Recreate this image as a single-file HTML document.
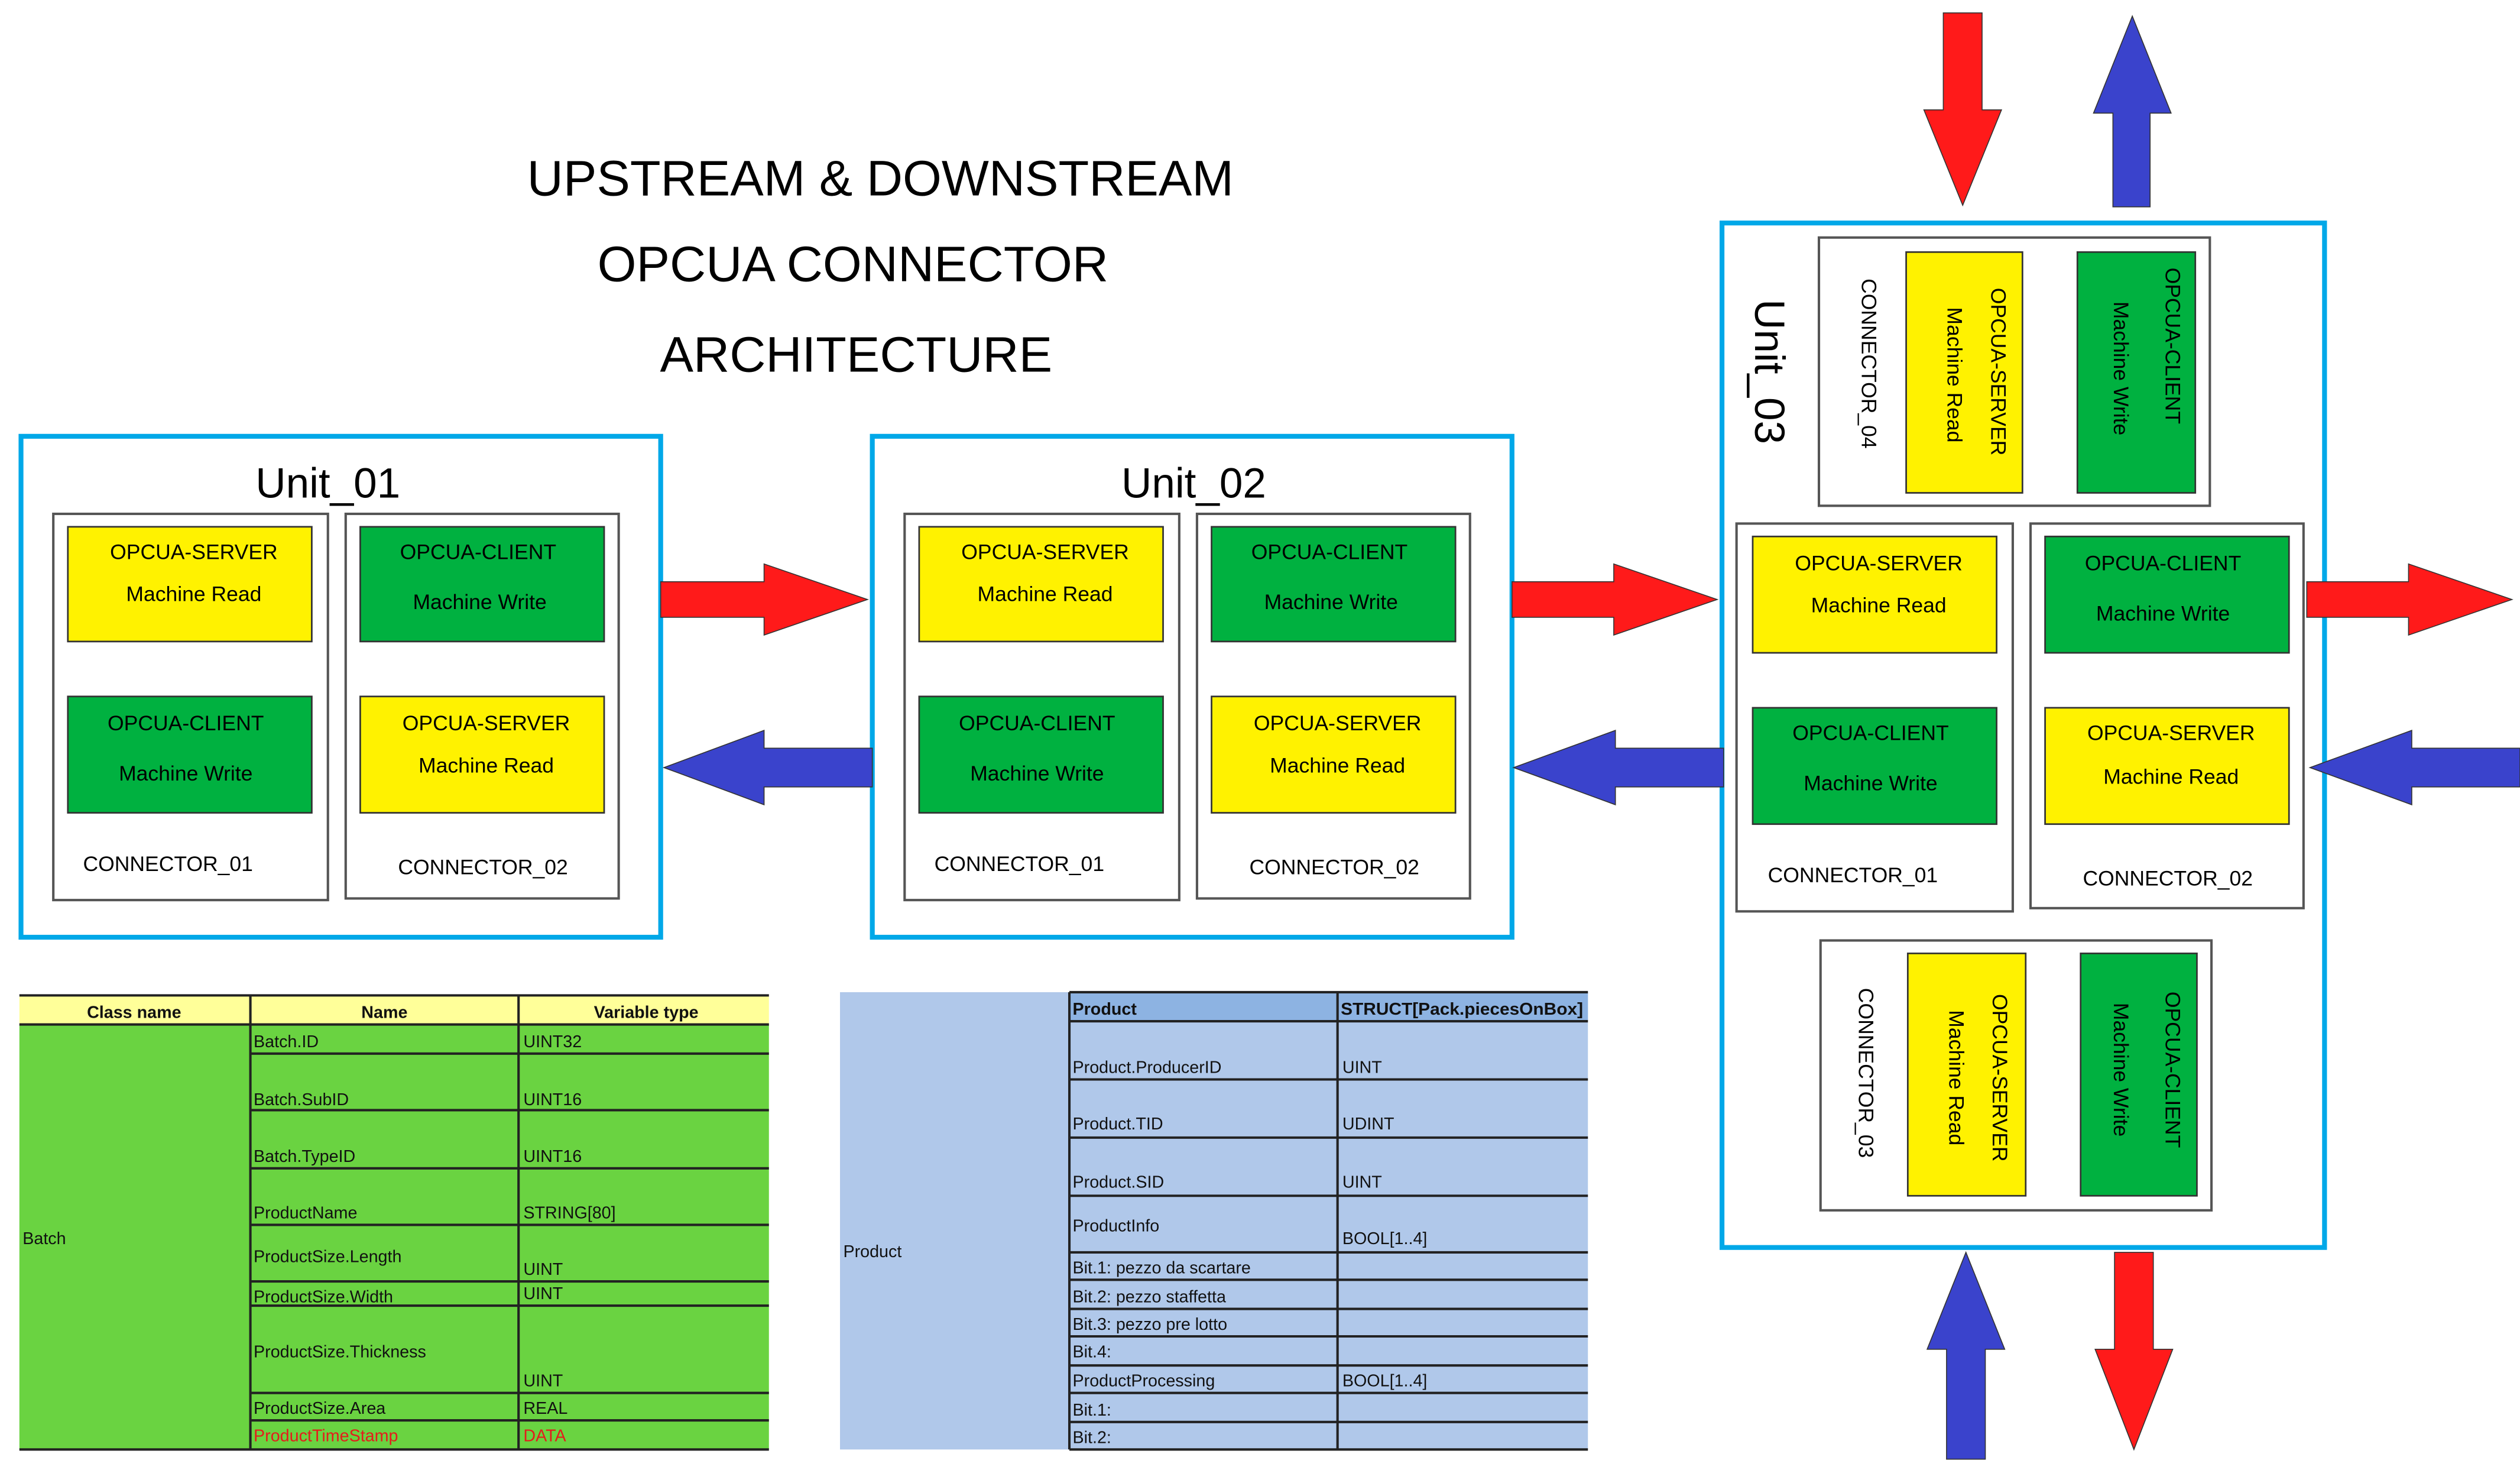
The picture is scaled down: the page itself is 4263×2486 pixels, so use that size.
<!DOCTYPE html>
<html><head><meta charset="utf-8"><style>html,body{margin:0;padding:0;background:#fff}svg{display:block}</style></head>
<body>
<svg xmlns="http://www.w3.org/2000/svg" width="4263" height="2486" viewBox="0 0 1560 909.7" preserveAspectRatio="none" font-family="Liberation Sans, Arial, sans-serif">
<rect width="1560" height="910" fill="#fff"/>
<g font-size="31" text-anchor="middle" fill="#000">
<text x="545" y="121">UPSTREAM &amp; DOWNSTREAM</text>
<text x="528" y="174">OPCUA CONNECTOR</text>
<text x="530" y="230">ARCHITECTURE</text>
</g>
<g>
<rect x="13" y="270" width="396" height="310" fill="#fff" stroke="#00a8e8" stroke-width="3"/>
<text x="203" y="308" font-size="26" text-anchor="middle">Unit_01</text>
<rect x="33" y="318" width="170" height="239" fill="#fff" stroke="#555" stroke-width="1.5"/>
<rect x="214" y="318" width="169" height="238" fill="#fff" stroke="#555" stroke-width="1.5"/>
<rect x="42" y="326" width="151" height="71" fill="#fff200" stroke="#333"/>
<rect x="42" y="431" width="151" height="72" fill="#00b140" stroke="#333"/>
<rect x="223" y="326" width="151" height="71" fill="#00b140" stroke="#333"/>
<rect x="223" y="431" width="151" height="72" fill="#fff200" stroke="#333"/>
<g font-size="13" text-anchor="middle">
<text x="120" y="346">OPCUA-SERVER</text><text x="120" y="372">Machine Read</text>
<text x="115" y="452">OPCUA-CLIENT</text><text x="115" y="483">Machine Write</text>
<text x="296" y="346">OPCUA-CLIENT</text><text x="297" y="377">Machine Write</text>
<text x="301" y="452">OPCUA-SERVER</text><text x="301" y="478">Machine Read</text>
<text x="104" y="539">CONNECTOR_01</text><text x="299" y="541">CONNECTOR_02</text>
</g>
</g>
<g transform="translate(527,0)">
<rect x="13" y="270" width="396" height="310" fill="#fff" stroke="#00a8e8" stroke-width="3"/>
<text x="212" y="308" font-size="26" text-anchor="middle">Unit_02</text>
<rect x="33" y="318" width="170" height="239" fill="#fff" stroke="#555" stroke-width="1.5"/>
<rect x="214" y="318" width="169" height="238" fill="#fff" stroke="#555" stroke-width="1.5"/>
<rect x="42" y="326" width="151" height="71" fill="#fff200" stroke="#333"/>
<rect x="42" y="431" width="151" height="72" fill="#00b140" stroke="#333"/>
<rect x="223" y="326" width="151" height="71" fill="#00b140" stroke="#333"/>
<rect x="223" y="431" width="151" height="72" fill="#fff200" stroke="#333"/>
<g font-size="13" text-anchor="middle">
<text x="120" y="346">OPCUA-SERVER</text><text x="120" y="372">Machine Read</text>
<text x="115" y="452">OPCUA-CLIENT</text><text x="115" y="483">Machine Write</text>
<text x="296" y="346">OPCUA-CLIENT</text><text x="297" y="377">Machine Write</text>
<text x="301" y="452">OPCUA-SERVER</text><text x="301" y="478">Machine Read</text>
<text x="104" y="539">CONNECTOR_01</text><text x="299" y="541">CONNECTOR_02</text>
</g>
</g>
<rect x="1066" y="138" width="373" height="634" fill="#fff" stroke="#00a8e8" stroke-width="3"/>
<rect x="1126" y="147" width="242" height="166" fill="#fff" stroke="#555" stroke-width="1.5"/>
<rect x="1180" y="156" width="72" height="149" fill="#fff200" stroke="#333"/>
<rect x="1286" y="156" width="73" height="149" fill="#00b140" stroke="#333"/>
<rect x="1075" y="324" width="171" height="240" fill="#fff" stroke="#555" stroke-width="1.5"/>
<rect x="1257" y="324" width="169" height="238" fill="#fff" stroke="#555" stroke-width="1.5"/>
<rect x="1085" y="332" width="151" height="72" fill="#fff200" stroke="#333"/>
<rect x="1085" y="438" width="151" height="72" fill="#00b140" stroke="#333"/>
<rect x="1266" y="332" width="151" height="72" fill="#00b140" stroke="#333"/>
<rect x="1266" y="438" width="151" height="72" fill="#fff200" stroke="#333"/>
<rect x="1127" y="582" width="242" height="167" fill="#fff" stroke="#555" stroke-width="1.5"/>
<rect x="1181" y="590" width="73" height="150" fill="#fff200" stroke="#333"/>
<rect x="1288" y="590" width="72" height="150" fill="#00b140" stroke="#333"/>
<g font-size="13" text-anchor="middle">
<text x="1163" y="353">OPCUA-SERVER</text><text x="1163" y="379">Machine Read</text>
<text x="1158" y="458">OPCUA-CLIENT</text><text x="1158" y="489">Machine Write</text>
<text x="1339" y="353">OPCUA-CLIENT</text><text x="1339" y="384">Machine Write</text>
<text x="1344" y="458">OPCUA-SERVER</text><text x="1344" y="485">Machine Read</text>
<text x="1147" y="546">CONNECTOR_01</text><text x="1342" y="548">CONNECTOR_02</text>
</g>
<g font-size="13" text-anchor="middle" dominant-baseline="central">
<text transform="translate(1237,230) rotate(90)">OPCUA-SERVER</text>
<text transform="translate(1210,232) rotate(90)">Machine Read</text>
<text transform="translate(1345,214) rotate(90)">OPCUA-CLIENT</text>
<text transform="translate(1313,228) rotate(90)">Machine Write</text>
<text transform="translate(1157,225) rotate(90)">CONNECTOR_04</text>
<text transform="translate(1238,667) rotate(90)">OPCUA-SERVER</text>
<text transform="translate(1211,667) rotate(90)">Machine Read</text>
<text transform="translate(1345,662) rotate(90)">OPCUA-CLIENT</text>
<text transform="translate(1313,662) rotate(90)">Machine Write</text>
<text transform="translate(1155,664) rotate(90)">CONNECTOR_03</text>
<text transform="translate(1095,230) rotate(90)" font-size="26">Unit_03</text>
</g>
<g stroke="#333" stroke-width="0.6">
<polygon fill="#ff1a1a" points="409,360 473,360 473,349 537,371 473,393 473,382 409,382"/>
<polygon fill="#3a43cc" points="540,463 473,463 473,452 411,475 473,498 473,487 540,487"/>
<polygon fill="#ff1a1a" points="936,360 999,360 999,349 1063,371 999,393 999,382 936,382"/>
<polygon fill="#3a43cc" points="1067,463 1000,463 1000,452 937,475 1000,498 1000,487 1067,487"/>
<polygon fill="#ff1a1a" points="1428,360 1491,360 1491,349 1555,371 1491,393 1491,382 1428,382"/>
<polygon fill="#3a43cc" points="1560,463 1493,463 1493,452 1430,475 1493,498 1493,487 1560,487"/>
<polygon fill="#ff1a1a" points="1203,8 1227,8 1227,68 1239,68 1215,127 1191,68 1203,68"/>
<polygon fill="#3a43cc" points="1320,10 1344,70 1331,70 1331,128 1308,128 1308,70 1296,70"/>
<polygon fill="#3a43cc" points="1217,775 1241,835 1229,835 1229,903 1205,903 1205,835 1193,835"/>
<polygon fill="#ff1a1a" points="1309,775 1333,775 1333,835 1345,835 1321,897 1297,835 1309,835"/>
</g>
<rect x="12" y="616" width="464" height="18" fill="#ffff99"/>
<rect x="12" y="634" width="464" height="263" fill="#6ad341"/>
<g stroke="#222" stroke-width="1.5">
<line x1="12" y1="616" x2="476" y2="616"/><line x1="12" y1="634" x2="476" y2="634"/>
<line x1="155" y1="652" x2="476" y2="652"/><line x1="155" y1="687" x2="476" y2="687"/>
<line x1="155" y1="723" x2="476" y2="723"/><line x1="155" y1="758" x2="476" y2="758"/>
<line x1="155" y1="793" x2="476" y2="793"/><line x1="155" y1="808" x2="476" y2="808"/>
<line x1="155" y1="862" x2="476" y2="862"/><line x1="155" y1="879" x2="476" y2="879"/>
<line x1="12" y1="897" x2="476" y2="897"/>
<line x1="155" y1="616" x2="155" y2="897"/><line x1="321" y1="616" x2="321" y2="897"/>
</g>
<g font-size="10.5" fill="#111">
<g font-weight="bold" text-anchor="middle"><text x="83" y="630">Class name</text><text x="238" y="630">Name</text><text x="400" y="630">Variable type</text></g>
<text x="14" y="770">Batch</text>
<text x="157" y="648">Batch.ID</text><text x="324" y="648">UINT32</text>
<text x="157" y="684">Batch.SubID</text><text x="324" y="684">UINT16</text>
<text x="157" y="719">Batch.TypeID</text><text x="324" y="719">UINT16</text>
<text x="157" y="754">ProductName</text><text x="324" y="754">STRING[80]</text>
<text x="157" y="781">ProductSize.Length</text><text x="324" y="789">UINT</text>
<text x="157" y="806">ProductSize.Width</text><text x="324" y="804">UINT</text>
<text x="157" y="840">ProductSize.Thickness</text><text x="324" y="858">UINT</text>
<text x="157" y="875">ProductSize.Area</text><text x="324" y="875">REAL</text>
<text x="157" y="892" fill="#e41c1c">ProductTimeStamp</text><text x="324" y="892" fill="#e41c1c">DATA</text>
</g>
<rect x="520" y="614" width="463" height="283" fill="#b0c8ea"/>
<rect x="662" y="614" width="321" height="18" fill="#8db3e2"/>
<g stroke="#222" stroke-width="1.5">
<line x1="662" y1="614" x2="983" y2="614"/><line x1="662" y1="632" x2="983" y2="632"/>
<line x1="662" y1="668" x2="983" y2="668"/><line x1="662" y1="704" x2="983" y2="704"/>
<line x1="662" y1="740" x2="983" y2="740"/><line x1="662" y1="775" x2="983" y2="775"/>
<line x1="662" y1="792" x2="983" y2="792"/><line x1="662" y1="810" x2="983" y2="810"/>
<line x1="662" y1="827" x2="983" y2="827"/><line x1="662" y1="845" x2="983" y2="845"/>
<line x1="662" y1="862" x2="983" y2="862"/><line x1="662" y1="880" x2="983" y2="880"/>
<line x1="662" y1="897" x2="983" y2="897"/>
<line x1="662" y1="614" x2="662" y2="897"/><line x1="828" y1="614" x2="828" y2="897"/>
</g>
<g font-size="10.5" fill="#111">
<text x="522" y="778">Product</text>
<g font-weight="bold"><text x="664" y="628">Product</text><text x="830" y="628" textLength="150" lengthAdjust="spacingAndGlyphs">STRUCT[Pack.piecesOnBox]</text></g>
<text x="664" y="664">Product.ProducerID</text><text x="831" y="664">UINT</text>
<text x="664" y="699">Product.TID</text><text x="831" y="699">UDINT</text>
<text x="664" y="735">Product.SID</text><text x="831" y="735">UINT</text>
<text x="664" y="762">ProductInfo</text><text x="831" y="770">BOOL[1..4]</text>
<text x="664" y="788">Bit.1: pezzo da scartare</text>
<text x="664" y="806">Bit.2: pezzo staffetta</text>
<text x="664" y="823">Bit.3: pezzo pre lotto</text>
<text x="664" y="840">Bit.4:</text>
<text x="664" y="858">ProductProcessing</text><text x="831" y="858">BOOL[1..4]</text>
<text x="664" y="876">Bit.1:</text>
<text x="664" y="893">Bit.2:</text>
</g>
</svg>
</body></html>
